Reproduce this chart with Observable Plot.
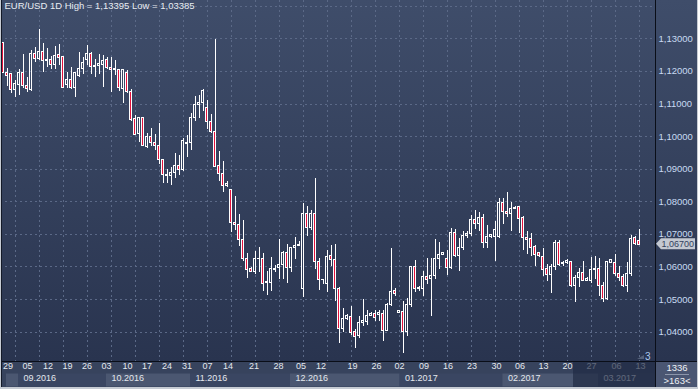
<!DOCTYPE html>
<html><head><meta charset="utf-8">
<script src="https://cdn.jsdelivr.net/npm/d3@7"></script>
<script src="https://cdn.jsdelivr.net/npm/@observablehq/plot@0.6"></script>
<style>html,body{margin:0;padding:0;background:#2b3651;} #chart{width:698px;height:389px;overflow:hidden}</style>
</head><body><div id="chart"></div>
<script>
const title = "EUR/USD 1D High = 1,13395 Low = 1,03385";
const opens = [1.1287,1.1195,1.1192,1.1143,1.1157,1.1195,1.1156,1.1144,1.1254,1.1239,1.1260,1.1231,1.1235,1.1220,1.1250,1.1243,1.1159,1.1174,1.1148,1.1187,
1.1208,1.1235,1.1254,1.1215,1.1217,1.1221,1.1235,1.1211,1.1205,1.1205,1.1146,1.1194,1.1138,1.1054,1.1008,1.1056,1.0969,1.1000,1.0980,1.0972,
1.0928,1.0879,1.0880,1.0888,1.0910,1.0898,1.0977,1.0979,1.1056,1.1096,1.1102,1.1088,1.1046,1.1015,1.0910,1.0885,1.0847,1.0837,1.0736,1.0728,
1.0683,1.0625,1.0595,1.0584,1.0624,1.0625,1.0550,1.0552,1.0590,1.0598,1.0606,1.0642,1.0596,1.0658,1.0663,1.0532,1.0762,1.0719,1.0762,1.0614,
1.0559,1.0547,1.0633,1.0620,1.0531,1.0411,1.0439,1.0446,1.0400,1.0388,1.0428,1.0432,1.0449,1.0457,1.0452,1.0455,1.0405,1.0483,1.0526,1.0460,
1.0461,1.0401,1.0483,1.0600,1.0533,1.0531,1.0569,1.0562,1.0572,1.0623,1.0637,1.0625,1.0598,1.0705,1.0634,1.0659,1.0695,1.0702,1.0743,1.0731,
1.0751,1.0675,1.0693,1.0693,1.0693,1.0795,1.0769,1.0762,1.0777,1.0784,1.0751,1.0688,1.0686,1.0661,1.0642,1.0631,1.0593,1.0574,1.0601,1.0675,
1.0613,1.0612,1.0615,1.0541,1.0565,1.0582,1.0557,1.0557,1.0591,1.0593,1.0543,1.0502,1.0613,1.0611,1.0579,1.0569,1.0541,1.0580,1.0688,1.0680];
const highs = [1.1287,1.1208,1.1192,1.1172,1.1206,1.1252,1.1182,1.1264,1.1272,1.1329,1.1285,1.1269,1.1246,1.1276,1.1283,1.1246,1.1198,1.1213,1.1198,1.1257,
1.1244,1.1280,1.1259,1.1235,1.1252,1.1249,1.1244,1.1242,1.1233,1.1207,1.1205,1.1203,1.1143,1.1064,1.1059,1.1059,1.1008,1.1026,1.1005,1.1039,
1.0931,1.0900,1.0906,1.0947,1.0941,1.0995,1.1003,1.1072,1.1124,1.1126,1.1144,1.1110,1.1067,1.1298,1.0954,1.0923,1.0863,1.0839,1.0815,1.0760,
1.0744,1.0642,1.0598,1.0649,1.0660,1.0642,1.0586,1.0629,1.0605,1.0685,1.0649,1.0668,1.0660,1.0690,1.0677,1.0795,1.0785,1.0772,1.0873,1.0627,
1.0561,1.0652,1.0666,1.0669,1.0538,1.0473,1.0454,1.0480,1.0408,1.0449,1.0500,1.0468,1.0460,1.0468,1.0467,1.0467,1.0488,1.0656,1.0534,1.0468,
1.0493,1.0502,1.0603,1.0621,1.0541,1.0587,1.0626,1.0626,1.0685,1.0675,1.0646,1.0652,1.0719,1.0716,1.0688,1.0710,1.0710,1.0757,1.0774,1.0767,
1.0762,1.0726,1.0700,1.0741,1.0811,1.0810,1.0830,1.0798,1.0787,1.0787,1.0755,1.0710,1.0702,1.0667,1.0644,1.0657,1.0608,1.0608,1.0682,1.0680,
1.0616,1.0623,1.0618,1.0574,1.0596,1.0618,1.0567,1.0628,1.0631,1.0626,1.0552,1.0618,1.0623,1.0639,1.0603,1.0577,1.0613,1.0697,1.0695,1.0714];
const lows = [1.1194,1.1153,1.1131,1.1121,1.1126,1.1148,1.1136,1.1138,1.1228,1.1233,1.1198,1.1213,1.1205,1.1206,1.1218,1.1148,1.1148,1.1146,1.1121,1.1182,
1.1192,1.1218,1.1192,1.1180,1.1192,1.1151,1.1205,1.1136,1.1187,1.1139,1.1103,1.1131,1.1047,1.1003,1.0982,1.0969,1.0965,1.0969,1.0957,1.0914,
1.0856,1.0856,1.0849,1.0873,1.0880,1.0892,1.0936,1.0957,1.1047,1.1056,1.1078,1.1023,1.1008,1.0906,1.0863,1.0829,1.0844,1.0706,1.0711,1.0662,
1.0617,1.0565,1.0583,1.0578,1.0583,1.0524,1.0514,1.0526,1.0583,1.0562,1.0562,1.0549,1.0583,1.0624,1.0662,1.0506,1.0695,1.0711,1.0593,1.0528,
1.0547,1.0521,1.0601,1.0493,1.0365,1.0398,1.0437,1.0391,1.0349,1.0380,1.0418,1.0422,1.0447,1.0434,1.0434,1.0370,1.0403,1.0480,1.0511,1.0457,
1.0336,1.0388,1.0475,1.0521,1.0526,1.0509,1.0547,1.0449,1.0562,1.0593,1.0634,1.0575,1.0593,1.0628,1.0585,1.0651,1.0688,1.0695,1.0716,1.0708,
1.0657,1.0657,1.0688,1.0618,1.0688,1.0731,1.0751,1.0708,1.0775,1.0702,1.0651,1.0639,1.0631,1.0603,1.0628,1.0572,1.0557,1.0518,1.0590,1.0603,
1.0603,1.0608,1.0538,1.0490,1.0536,1.0555,1.0555,1.0550,1.0562,1.0511,1.0490,1.0498,1.0611,1.0572,1.0555,1.0536,1.0521,1.0572,1.0667,1.0666];
const closes = [1.1194,1.1187,1.1143,1.1160,1.1195,1.1155,1.1146,1.1254,1.1239,1.1261,1.1233,1.1236,1.1220,1.1248,1.1242,1.1150,1.1174,1.1150,1.1194,1.1208,
1.1226,1.1254,1.1215,1.1218,1.1222,1.1233,1.1211,1.1205,1.1206,1.1148,1.1203,1.1136,1.1051,1.1006,1.1056,1.0970,1.1000,1.0980,1.0971,1.0928,
1.0882,1.0883,1.0888,1.0911,1.0897,1.0987,1.0981,1.1057,1.1097,1.1104,1.1141,1.1044,1.1013,1.0908,1.0885,1.0847,1.0856,1.0734,1.0729,1.0682,
1.0623,1.0590,1.0586,1.0625,1.0626,1.0549,1.0554,1.0593,1.0595,1.0606,1.0642,1.0596,1.0658,1.0665,1.0668,1.0762,1.0719,1.0764,1.0614,1.0559,
1.0561,1.0632,1.0620,1.0531,1.0411,1.0439,1.0449,1.0398,1.0386,1.0429,1.0434,1.0449,1.0457,1.0444,1.0459,1.0405,1.0483,1.0522,1.0516,1.0464,
1.0401,1.0483,1.0600,1.0533,1.0536,1.0569,1.0561,1.0572,1.0625,1.0637,1.0643,1.0598,1.0705,1.0634,1.0659,1.0695,1.0702,1.0743,1.0731,1.0751,
1.0675,1.0693,1.0697,1.0712,1.0795,1.0769,1.0762,1.0777,1.0782,1.0748,1.0688,1.0683,1.0659,1.0636,1.0634,1.0591,1.0574,1.0601,1.0675,1.0605,
1.0608,1.0618,1.0541,1.0567,1.0582,1.0557,1.0562,1.0591,1.0595,1.0543,1.0502,1.0615,1.0621,1.0579,1.0567,1.0543,1.0580,1.0687,1.0672,1.0669];
const priceTicks = [1.04,1.05,1.06,1.07,1.08,1.09,1.10,1.11,1.12,1.13];
const gridPrices = [1.04,1.05,1.06,1.07,1.08,1.09,1.10,1.11,1.12,1.13,1.14];
const dayLabels = ["29","05","12","19","26","03","10","17","24","31","07","14","21","28","05","12","19","26","02","09","16","23","30","06","13","20","27","06","13"];
const dayPos = [1.25,6.1,11.25,16.1,21,25.9,31.1,36,41,46,51.1,56.25,62.75,68.9,74.5,79.5,87.4,93.4,99.1,105.25,111.25,117.25,123.4,129.25,135.1,141.1,147.1,153.4,159.4];
const monthLabels = ["","09.2016","10.2016","11.2016","12.2016","01.2017","02.2017","03.2017"];
const monthStart = [1,4,26,47,72,99.4,125.1,149];
const lastPrice = 1.067;
const barCount = "1336", visibleCount = ">163<", scrollMark = "3";

const candles = opens.map((o,i)=>({k:i,o,h:highs[i],l:lows[i],c:closes[i]}));
const bears = candles.filter(d=>d.c<d.o), bulls = candles.filter(d=>d.c>=d.o);
const days = dayLabels.map((t,i)=>({t,k:dayPos[i]}));
const months = monthLabels.map((t,i)=>({t,k:monthStart[i]}));
const gridK = d3.range(0,27).map(n=>3.125+6*n);
const F = "Liberation Sans, Arial, sans-serif";
const fmt = d=>d.toFixed(5).replace(".",",");

const plot = Plot.plot({
  width:698, height:389, marginLeft:0, marginRight:43, marginTop:0, marginBottom:28,
  style:{background:"transparent", fontFamily:F},
  x:{domain:[-0.625,163.125], axis:null},
  y:{domain:[1.03101,1.14175], label:null},
  marks:[
    Plot.ruleY(gridPrices,{stroke:"#5b6987",strokeDasharray:"2,3",shapeRendering:"crispEdges"}),
    Plot.ruleX(gridK,{stroke:"#5b6987",strokeDasharray:"2,3",shapeRendering:"crispEdges"}),
    Plot.ruleX(candles,{x:"k",y1:"h",y2:d=>Math.max(d.o,d.c),stroke:"#ffffff",shapeRendering:"crispEdges"}),
    Plot.ruleX(candles,{x:"k",y1:"l",y2:d=>Math.min(d.o,d.c),stroke:"#ffffff",shapeRendering:"crispEdges"}),
    Plot.rect(bears,{x1:d=>d.k-0.25,x2:d=>d.k+0.25,y1:"o",y2:"c",fill:"#e3123c",stroke:"#ffffff",shapeRendering:"crispEdges"}),
    Plot.rect(bulls,{x1:d=>d.k-0.25,x2:d=>d.k+0.25,y1:"o",y2:"c",fill:"none",stroke:"#ffffff",shapeRendering:"crispEdges"}),
    Plot.axisY(priceTicks,{anchor:"right",tickSize:0,tickPadding:3,tickFormat:fmt,label:null,fill:"#c8daf2",fontSize:9.5,fontFamily:F}),
    Plot.text([title],{frameAnchor:"top-left",dx:4,dy:2,lineAnchor:"top",fill:"#e8ecf2",fontSize:9.5,fontFamily:F}),
    Plot.text(days,{x:"k",text:"t",frameAnchor:"bottom",dy:7,fill:"#e4e8ee",fontSize:9,fontFamily:F}),
    Plot.text(months,{x:"k",text:"t",frameAnchor:"bottom",dy:19,dx:4.5,textAnchor:"start",fill:"#e4e8ee",fontSize:9,fontFamily:F})
  ]
});
document.getElementById("chart").appendChild(plot);

const svg = d3.select(plot);
const xs = plot.scale("x"), ys = plot.scale("y");
const X = k=>xs.apply(k);
// background layer
const bg = svg.insert("g",":first-child");
const defs = bg.append("defs");
const lg = defs.append("linearGradient").attr("id","bgGrad").attr("x1",0).attr("y1",0).attr("x2",0).attr("y2",1);
lg.append("stop").attr("offset","0%").attr("stop-color","#3f4d6a");
lg.append("stop").attr("offset","100%").attr("stop-color","#29344f");
bg.append("rect").attr("x",0).attr("y",0).attr("width",698).attr("height",361).attr("fill","url(#bgGrad)");
bg.append("rect").attr("x",0).attr("y",361).attr("width",698).attr("height",28).attr("fill","#37435d");
const monthEnds = monthStart.slice(1).concat([163.125]);
months.forEach((m,i)=>{
  const x0 = X(m.k)-0.5, x1 = Math.min(X(monthEnds[i])-0.5,655);
  bg.append("rect").attr("x",x0).attr("y",373.5).attr("width",x1-x0).attr("height",13)
    .attr("fill", i%2===0 ? "#4b5771" : "#3a4662");
});
bg.append("rect").attr("x",656).attr("y",362).attr("width",41).attr("height",25).attr("fill","#4a5672");

// overlays on top
const fg = svg.append("g").attr("text-anchor","start");
fg.append("rect").attr("x",573).attr("y",362).attr("width",82).attr("height",25).attr("fill","#1f2942").attr("opacity",0.68);
fg.append("line").attr("x1",655.5).attr("x2",655.5).attr("y1",0).attr("y2",389).attr("stroke","#0a0e18");
fg.append("line").attr("x1",0).attr("x2",698).attr("y1",361.5).attr("y2",361.5).attr("stroke","#0a0e18");
fg.append("rect").attr("x",0).attr("y",0).attr("width",1).attr("height",389).attr("fill","#c6cbd3");
fg.append("rect").attr("x",1).attr("y",0).attr("width",1).attr("height",387).attr("fill","#141a28");
fg.append("rect").attr("x",0).attr("y",387).attr("width",698).attr("height",2).attr("fill","#c6cbd3");
fg.append("rect").attr("x",697).attr("y",0).attr("width",1).attr("height",389).attr("fill","#c6cbd3");
// last price marker
const yc = ys.apply(lastPrice);
fg.append("path").attr("d",`M656,${yc} L661,${yc-5.5} L695,${yc-5.5} L695,${yc+5.5} L661,${yc+5.5} Z`).attr("fill","#c3c8d1");
fg.append("text").attr("x",661.5).attr("y",yc).attr("dy","0.35em").attr("text-anchor","start").attr("fill","#33425e").attr("font-size",9).attr("font-family",F).text(fmt(lastPrice));
// bar count box
fg.append("text").attr("x",677).attr("y",367.5).attr("dy","0.35em").attr("text-anchor","middle").attr("fill","#eef1f5").attr("font-size",9.5).attr("font-family",F).text(barCount);
fg.append("line").attr("x1",665).attr("x2",689).attr("y1",374.5).attr("y2",374.5).attr("stroke","#8c96aa");
fg.append("text").attr("x",677).attr("y",381).attr("dy","0.35em").attr("text-anchor","middle").attr("fill","#eef1f5").attr("font-size",9.5).attr("font-family",F).text(visibleCount);
// scroll marker
fg.append("path").attr("d","M637,359 L644,359 L644,355 Z").attr("fill","#56627a");
fg.append("text").attr("x",645).attr("y",356).attr("dy","0.35em").attr("text-anchor","start").attr("fill","#a9c8ee").attr("font-size",10).attr("font-family",F).text(scrollMark);
</script>
</body></html>
